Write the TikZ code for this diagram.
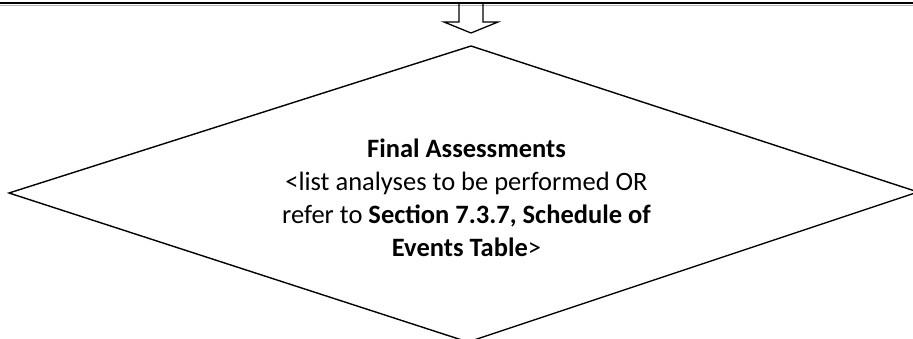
\documentclass[tikz,border=0pt]{standalone}
\usepackage{fontspec}
\setmainfont{Carlito}
\begin{document}
\begin{tikzpicture}[x=1pt,y=-1pt,
  outline/.style={draw=black,line width=1.4pt,line join=miter},
  body/.style={align=center,font=\fontsize{26.5}{33}\selectfont,inner sep=0pt}]
\useasboundingbox (0,0) rectangle (913,339);
\clip (0,0) rectangle (913,339);
% top edge of previous box
\coordinate (tl) at (0,3);
\coordinate (tr) at (913,3);
\draw[line width=2pt] (tl) -- (tr);
\draw[line width=0.8pt,gray!60] (0,5) -- (913,5);
% hollow block arrow
\coordinate (as1) at (459,3);
\coordinate (as2) at (483,3);
\coordinate (tip) at (471,33);
\draw[outline,line width=1.3pt] (as1) -- (459,22) -- (444,22) -- (tip) -- (498,22) -- (483,22) -- (as2);
% diamond
\coordinate (dt) at (471,46);
\coordinate (dr) at (918,192);
\coordinate (db) at (468,342);
\coordinate (dl) at (9,193);
\draw[outline] (dt) -- (dr) -- (db) -- (dl) -- cycle;
\node[body] (txt) at (466.5,197.5) {\textbf{Final Assessments}\\
<list analyses to be performed OR\\
refer to \textbf{Section 7.3.7, Schedule of}\\
\textbf{Events Table}>};
\end{tikzpicture}
\end{document}
